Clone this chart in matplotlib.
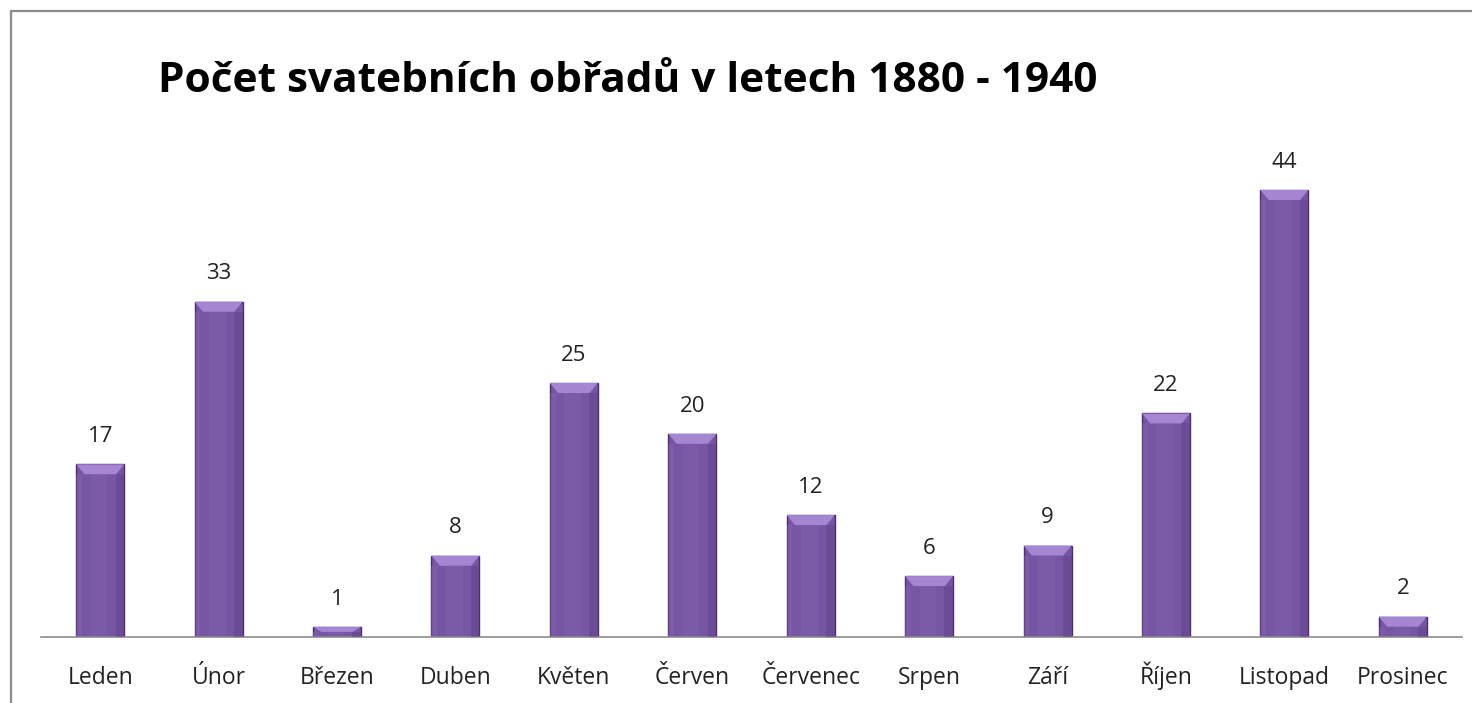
import numpy as np
import matplotlib.pyplot as plt
from matplotlib.patches import Polygon, Rectangle

months = ['Leden', 'Únor', 'Březen', 'Duben', 'Květen', 'Červen',
          'Červenec', 'Srpen', 'Září', 'Říjen', 'Listopad', 'Prosinec']
counts = [17, 33, 1, 8, 25, 20, 12, 6, 9, 22, 44, 2]
title = 'Počet svatebních obřadů v letech 1880 - 1940'

plt.rcParams['font.family'] = ['Open Sans', 'DejaVu Sans']

W, H = 1472, 703
fig = plt.figure(figsize=(W / 100, H / 100), dpi=100)

# grey outer frame (chart is cropped on the right and bottom)
fig.patches.append(Rectangle((11 / W, -0.05), 1.2, 1 - 11 / H + 0.05,
                             transform=fig.transFigure, fill=False,
                             edgecolor='#8c8c8c', linewidth=1.6))

ax = fig.add_axes([41 / W, 66 / H, 1421 / W, 508 / H])
x = np.arange(len(months))
width = 0.405
bars = ax.bar(x, counts, width=width, color='#7655a2',
              edgecolor='#4a2f6b', linewidth=1.0, zorder=2)

# bevel highlight on top of each bar
px_per_unit = 508 / 50
bevel = 10 / px_per_unit
for b in bars:
    x0, w, h = b.get_x(), b.get_width(), b.get_height()
    bh = min(bevel, h * 0.5)
    ax.add_patch(Polygon([(x0, h), (x0 + w, h), (x0 + w - 0.07, h - bh), (x0 + 0.07, h - bh)],
                         closed=True, color='#a586d3', zorder=3, linewidth=0))
    ax.add_patch(Rectangle((x0 + w * 0.82, 0), w * 0.18, h - bh, color='#5e4189',
                           alpha=0.45, zorder=3, linewidth=0))
    ax.add_patch(Rectangle((x0, 0), w * 0.12, h - bh, color='#8a6ab6',
                           alpha=0.35, zorder=3, linewidth=0))
    ax.add_patch(Rectangle((x0 + w * 0.3, 0), w * 0.35, h - bh, color='#8a6ab6',
                           alpha=0.25, zorder=3, linewidth=0))
    ax.text(b.get_x() + w / 2, h + 1.7, str(int(h)), ha='center', va='bottom',
            fontsize=16, color='#222222')

ax.set_xlim(-0.5, len(months) - 0.5)
ax.set_ylim(0, 50)
ax.set_xticks(x)
ax.set_xticklabels(months, fontsize=16.5, color='#222222')
for lbl in ax.get_xticklabels():
    lbl.set_verticalalignment('baseline')
ax.tick_params(axis='x', length=0, pad=34)
ax.set_yticks([])
for s in ['top', 'right', 'left']:
    ax.spines[s].set_visible(False)
ax.spines['bottom'].set_color('#8c8c8c')
ax.spines['bottom'].set_linewidth(1.2)

fig.text(158 / W, 1 - 81 / H, title, fontsize=30.5, fontweight='bold',
         va='center', ha='left', color='#000000')

fig.savefig('out.png', dpi=100)
